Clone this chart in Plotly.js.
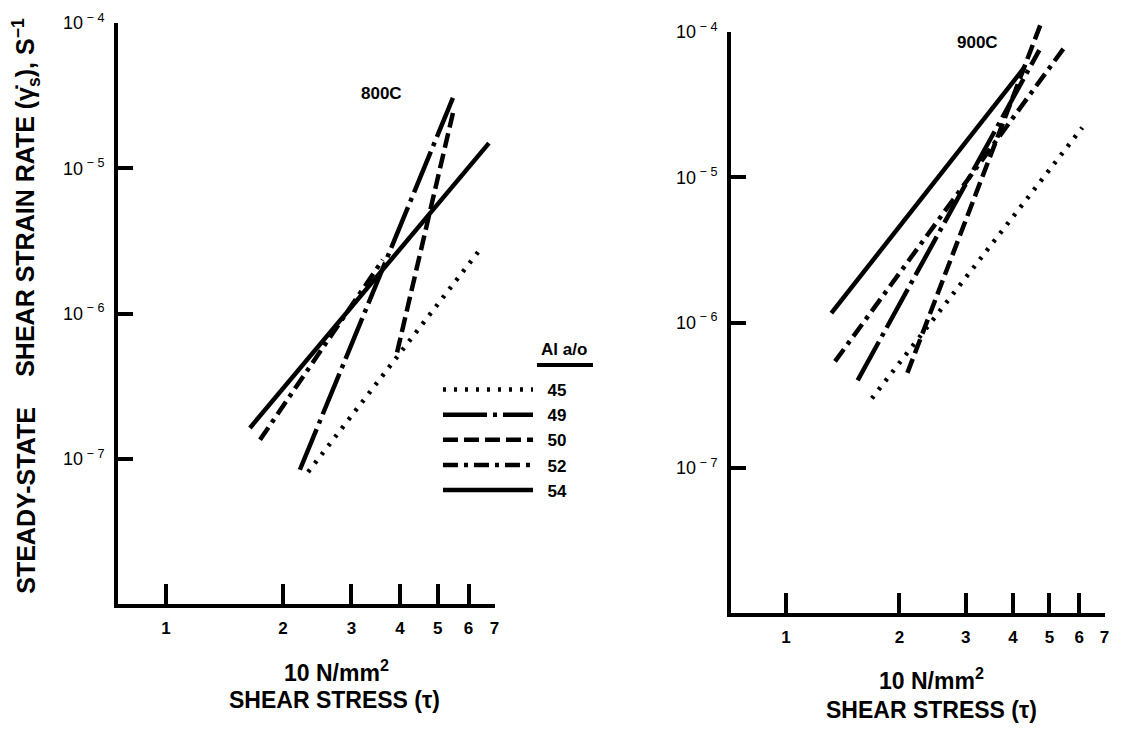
<!DOCTYPE html>
<html><head><meta charset="utf-8">
<script src="https://cdn.plot.ly/plotly-3.0.1.min.js"></script>
<style>html,body{margin:0;padding:0;background:#fff}#chart{width:1121px;height:736px}</style>
</head><body><div id="chart"></div>
<script>
// Alloy compositions (Al a/o)
const alloyLabels = ['45', '49', '50', '52', '54'];

// 800C panel: line end points (shear stress in 10 N/mm², steady-state shear strain rate in s^-1)
const stress800_45 = [2.32, 6.45];
const rate800_45   = [8.1e-8, 2.8e-6];
const stress800_49 = [2.21, 5.47];
const rate800_49   = [8.4e-8, 3.05e-5];
const stress800_50 = [3.93, 5.47];
const rate800_50   = [5.4e-7, 2.4e-5];
const stress800_52 = [1.745, 3.61];
const rate800_52   = [1.35e-7, 2.34e-6];
const stress800_54 = [1.644, 6.77];
const rate800_54   = [1.63e-7, 1.49e-5];

// 900C panel
const stress900_45 = [1.69, 6.11];
const rate900_45   = [3.0e-7, 2.2e-5];
const stress900_49 = [1.55, 4.70];
const rate900_49   = [4.0e-7, 7.5e-5];
const stress900_50 = [2.10, 4.75];
const rate900_50   = [4.5e-7, 1.15e-4];
const stress900_52 = [1.35, 5.47];
const rate900_52   = [5.4e-7, 7.8e-5];
const stress900_54 = [1.32, 4.29];
const rate900_54   = [1.16e-6, 5.7e-5];

// Axis ticks
const xTickVals = [1, 2, 3, 4, 5, 6, 7];
const xTickText = ['1', '2', '3', '4', '5', '6', '7'];
const yTickVals = [1e-7, 1e-6, 1e-5, 1e-4];
const yTickText = ['10<sup> \u2212 7</sup>', '10<sup> \u2212 6</sup>', '10<sup> \u2212 5</sup>', '10<sup> \u2212 4</sup>'];

const FONT = 'Liberation Sans, Arial, Helvetica, sans-serif';
const dashes = {
  '45': '3px,8px',
  '49': '44px,6px,4px,6px',
  '50': '15px,6px',
  '52': '15px,6px,4px,6px',
  '54': 'solid'
};
const LW = 4.5;

function line(x, y, label, xa, ya, showlegend) {
  return {
    type: 'scatter', mode: 'lines', x: x, y: y,
    name: '\u00a0\u00a0' + label,
    xaxis: xa, yaxis: ya,
    showlegend: showlegend,
    hoverinfo: 'skip',
    line: {color: '#000', width: LW, dash: dashes[label]}
  };
}

const data = [
  line(stress800_45, rate800_45, alloyLabels[0], 'x', 'y', true),
  line(stress800_49, rate800_49, alloyLabels[1], 'x', 'y', true),
  line(stress800_50, rate800_50, alloyLabels[2], 'x', 'y', true),
  line(stress800_52, rate800_52, alloyLabels[3], 'x', 'y', true),
  line(stress800_54, rate800_54, alloyLabels[4], 'x', 'y', true),
  line(stress900_45, rate900_45, alloyLabels[0], 'x2', 'y2', false),
  line(stress900_49, rate900_49, alloyLabels[1], 'x2', 'y2', false),
  line(stress900_50, rate900_50, alloyLabels[2], 'x3', 'y3', false),
  line(stress900_52, rate900_52, alloyLabels[3], 'x2', 'y2', false),
  line(stress900_54, rate900_54, alloyLabels[4], 'x2', 'y2', false)
];

function xAxis(domain, range, anchor) {
  return {
    type: 'log', domain: domain, range: range, anchor: anchor,
    showline: true, linecolor: '#000', linewidth: 4,
    ticks: 'inside', ticklen: 20, tickwidth: 4, tickcolor: '#000',
    tickvals: xTickVals, ticktext: xTickText,
    tickfont: {family: FONT, size: 17, color: '#000', weight: 'bold'},
    ticklabelstandoff: 6,
    showgrid: false, zeroline: false, automargin: false, fixedrange: true
  };
}
function yAxis(domain, anchor) {
  return {
    type: 'log', domain: domain, range: [-8, -4], anchor: anchor,
    showline: true, linecolor: '#000', linewidth: 4,
    ticks: 'inside', ticklen: 15, tickwidth: 4, tickcolor: '#000',
    tickvals: yTickVals, ticktext: yTickText,
    tickfont: {family: FONT, size: 18, color: '#000'},
    ticklabelstandoff: 6,
    showgrid: false, zeroline: false, automargin: false, fixedrange: true
  };
}

const leftXDomain = [0.10526, 0.44157];
const leftXRange = [-0.1234, 0.8462];
const rightXDomain = [0.65210, 0.98573];
const rightXRange = [-0.1455, 0.8462];
const rightYDomain = [0.16712, 0.95652];
const extTop = -8 + 4 * (1 - rightYDomain[0]) / (rightYDomain[1] - rightYDomain[0]);

function ann(text, x, y, size, opts) {
  return Object.assign({
    text: text, x: x, y: y, xref: 'paper', yref: 'paper',
    showarrow: false, xanchor: 'center', yanchor: 'middle',
    font: {family: FONT, size: size, color: '#000', weight: 'bold'}
  }, opts || {});
}

const layout = {
  width: 1121, height: 736,
  margin: {l: 0, r: 0, t: 0, b: 0},
  paper_bgcolor: '#fff', plot_bgcolor: 'rgba(0,0,0,0)',
  showlegend: true,
  legend: {
    x: 0.3907, y: 0.4945, xanchor: 'left', yanchor: 'top',
    itemwidth: 90, traceorder: 'normal',
    font: {family: FONT, size: 17, color: '#000', weight: 'bold'},
    bgcolor: 'rgba(0,0,0,0)', borderwidth: 0
  },
  xaxis: xAxis(leftXDomain, leftXRange, 'y'),
  yaxis: yAxis([0.17935, 0.96875], 'x'),
  xaxis2: xAxis(rightXDomain, rightXRange, 'y2'),
  yaxis2: yAxis(rightYDomain, 'x2'),
  xaxis3: {type: 'log', domain: rightXDomain, range: rightXRange, anchor: 'y3', visible: false, fixedrange: true},
  yaxis3: {type: 'log', domain: [rightYDomain[0], 1], range: [-8, extTop], anchor: 'x3', visible: false, fixedrange: true},
  annotations: [
    ann('STEADY-STATE', 0.0230, 0.3207, 25, {textangle: -90}),
    ann('SHEAR STRAIN RATE (\u03b3\u0307<sub>s</sub>), S<sup>\u22121</sup>', 0.0230, 0.7323, 25, {textangle: -90}),
    ann('10 N/mm<sup>2</sup>', 0.3006, 0.0880, 23),
    ann('SHEAR STRESS (\u03c4)', 0.2980, 0.0489, 23),
    ann('10 N/mm<sup>2</sup>', 0.8314, 0.0771, 23),
    ann('SHEAR STRESS (\u03c4)', 0.8314, 0.0353, 23),
    ann('800C', 0.3399, 0.8736, 17),
    ann('900C', 0.8724, 0.9416, 17),
    ann('Al a/o', 0.5031, 0.5245, 17)
  ],
  shapes: [
    {type: 'line', xref: 'paper', yref: 'paper', x0: 0.4790, x1: 0.5290, y0: 0.5041, y1: 0.5041,
     line: {color: '#000', width: 4}}
  ]
};

Plotly.newPlot('chart', data, layout, {staticPlot: true, displayModeBar: false});
</script>
</body></html>
